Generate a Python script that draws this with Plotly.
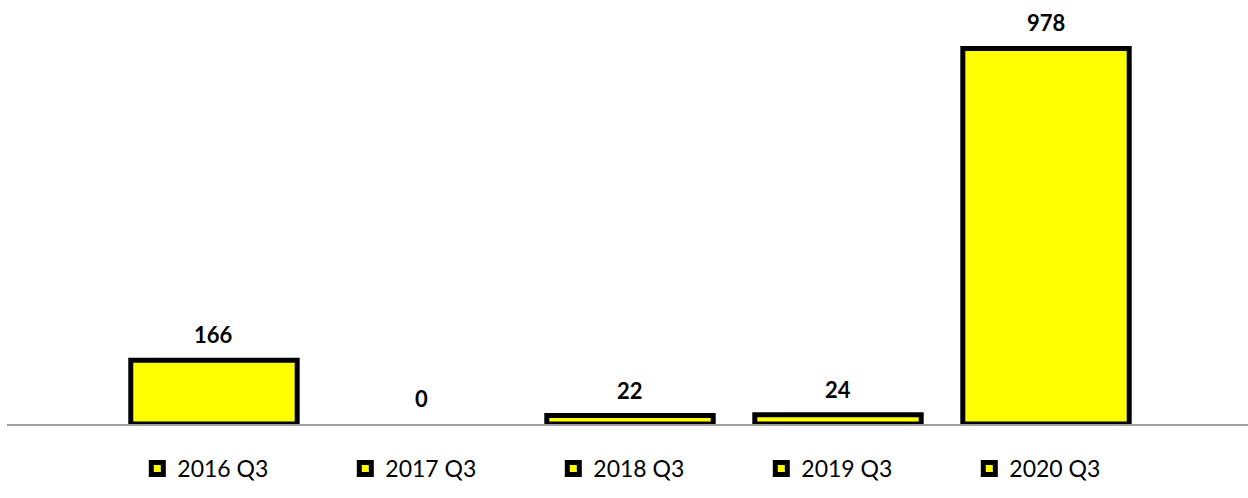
import plotly.graph_objects as go

categories = ["2016 Q3", "2017 Q3", "2018 Q3", "2019 Q3", "2020 Q3"]
values = [166, 0, 22, 24, 978]

fig = go.Figure()
for cat, val in zip(categories, values):
    fig.add_trace(go.Bar(
        x=[cat], y=[val if val != 0 else None], name=cat, width=0.80,
        marker=dict(color="#FFFF00", line=dict(color="#000000", width=5)),
        hoverinfo="skip",
    ))
    fig.add_annotation(
        x=cat, y=val, text=f"<b>{val}</b>", showarrow=False,
        yanchor="bottom", yshift=10,
        font=dict(family="Lato", size=22, color="#000000"),
    )

fig.update_layout(
    width=1248, height=498,
    margin=dict(l=7, r=0, t=40, b=74, autoexpand=False),
    paper_bgcolor="white", plot_bgcolor="white",
    barmode="overlay",
    showlegend=True,
    legend=dict(
        orientation="h", x=0.105, xanchor="left", y=-0.06, yanchor="top",
        entrywidth=163, entrywidthmode="pixels",
        font=dict(family="Lato", size=23, color="#000000"),
        bgcolor="rgba(0,0,0,0)",
    ),
    xaxis=dict(
        type="category", categoryorder="array", categoryarray=categories,
        range=[-0.995, 4.971], showticklabels=False, ticks="",
        showgrid=False, zeroline=False,
        showline=True, linecolor="#a0a0a0", linewidth=2,
    ),
    yaxis=dict(
        range=[0, 1000], visible=False, showgrid=False, zeroline=False,
    ),
)

fig.write_html("out.html", config={"displayModeBar": False},
               post_script="document.body.style.margin='0px';")
